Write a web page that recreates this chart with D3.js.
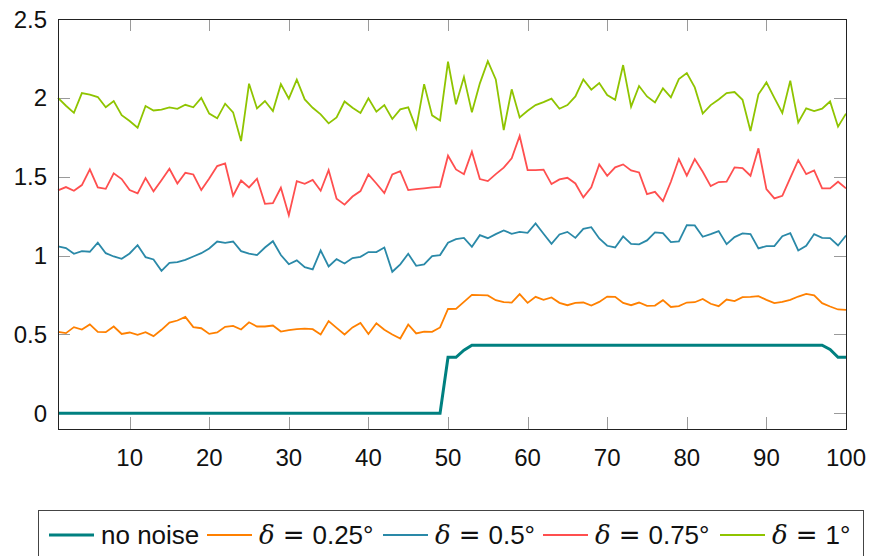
<!DOCTYPE html>
<html>
<head>
<meta charset="utf-8">
<script src="https://cdn.jsdelivr.net/npm/d3@7"></script>
<style>
  body { margin: 0; background: #fff; }
  svg { display: block; font-family: "Liberation Sans", Arial, sans-serif; }
</style>
</head>
<body>
<div id="chart"></div>
<script>
// values, one per step 1..100
const noNoise = [
  0, 0, 0, 0, 0, 0, 0, 0, 0, 0,
  0, 0, 0, 0, 0, 0, 0, 0, 0, 0,
  0, 0, 0, 0, 0, 0, 0, 0, 0, 0,
  0, 0, 0, 0, 0, 0, 0, 0, 0, 0,
  0, 0, 0, 0, 0, 0, 0, 0, 0, 0.355,
  0.355, 0.4, 0.431, 0.431, 0.431, 0.431, 0.431, 0.431, 0.431, 0.431,
  0.431, 0.431, 0.431, 0.431, 0.431, 0.431, 0.431, 0.431, 0.431, 0.431,
  0.431, 0.431, 0.431, 0.431, 0.431, 0.431, 0.431, 0.431, 0.431, 0.431,
  0.431, 0.431, 0.431, 0.431, 0.431, 0.431, 0.431, 0.431, 0.431, 0.431,
  0.431, 0.431, 0.431, 0.431, 0.431, 0.431, 0.431, 0.404, 0.355, 0.355,
];
const delta025 = [
  0.516, 0.508, 0.546, 0.531, 0.563, 0.516, 0.514, 0.55, 0.503, 0.512,
  0.497, 0.514, 0.489, 0.529, 0.575, 0.588, 0.611, 0.546, 0.539, 0.503,
  0.512, 0.548, 0.554, 0.531, 0.577, 0.55, 0.55, 0.556, 0.518, 0.527,
  0.533, 0.537, 0.533, 0.499, 0.584, 0.541, 0.499, 0.544, 0.573, 0.503,
  0.571, 0.529, 0.499, 0.474, 0.563, 0.506, 0.518, 0.516, 0.544, 0.661,
  0.662, 0.706, 0.751, 0.749, 0.747, 0.717, 0.704, 0.702, 0.755, 0.7,
  0.738, 0.719, 0.734, 0.7, 0.685, 0.7, 0.702, 0.683, 0.706, 0.74,
  0.738, 0.7, 0.685, 0.702, 0.681, 0.683, 0.717, 0.674, 0.679, 0.702,
  0.704, 0.725, 0.694, 0.679, 0.721, 0.711, 0.736, 0.738, 0.742, 0.719,
  0.698, 0.706, 0.719, 0.74, 0.757, 0.747, 0.698, 0.677, 0.658, 0.656,
];
const delta05 = [
  1.058, 1.047, 1.011, 1.028, 1.024, 1.081, 1.015, 0.994, 0.979, 1.013,
  1.066, 0.99, 0.975, 0.903, 0.954, 0.958, 0.973, 0.994, 1.015, 1.045,
  1.089, 1.081, 1.089, 1.028, 1.012, 1.003, 1.051, 1.091, 1.003, 0.945,
  0.969, 0.926, 0.912, 1.032, 0.931, 0.977, 0.95, 0.984, 0.992, 1.022,
  1.022, 1.051, 0.897, 0.944, 1.011, 0.935, 0.944, 0.996, 1.003, 1.081,
  1.104, 1.112, 1.055, 1.129, 1.11, 1.136, 1.159, 1.138, 1.15, 1.144,
  1.203, 1.138, 1.074, 1.134, 1.15, 1.112, 1.169, 1.18, 1.108, 1.062,
  1.051, 1.121, 1.074, 1.071, 1.096, 1.147, 1.142, 1.085, 1.089, 1.193,
  1.191, 1.119, 1.136, 1.155, 1.072, 1.117, 1.14, 1.136, 1.045, 1.06,
  1.06, 1.123, 1.142, 1.032, 1.062, 1.136, 1.112, 1.11, 1.064, 1.127,
];
const delta075 = [
  1.413, 1.434, 1.411, 1.447, 1.546, 1.432, 1.423, 1.521, 1.485, 1.415,
  1.394, 1.491, 1.407, 1.478, 1.55, 1.457, 1.525, 1.514, 1.415, 1.489,
  1.567, 1.584, 1.379, 1.476, 1.432, 1.487, 1.328, 1.332, 1.43, 1.256,
  1.472, 1.455, 1.48, 1.411, 1.542, 1.36, 1.323, 1.374, 1.409, 1.514,
  1.457, 1.396, 1.514, 1.535, 1.415, 1.421, 1.426, 1.432, 1.436, 1.633,
  1.546, 1.516, 1.658, 1.485, 1.472, 1.516, 1.557, 1.616, 1.758, 1.542,
  1.542, 1.545, 1.453, 1.483, 1.493, 1.457, 1.369, 1.432, 1.578, 1.506,
  1.559, 1.578, 1.54, 1.527, 1.39, 1.404, 1.345, 1.468, 1.612, 1.506,
  1.612, 1.531, 1.44, 1.466, 1.468, 1.559, 1.555, 1.506, 1.68, 1.421,
  1.362, 1.379, 1.493, 1.605, 1.516, 1.54, 1.426, 1.426, 1.468, 1.426,
];
const delta1 = [
  2.0, 1.95, 1.905, 2.03, 2.02, 2.005, 1.94, 1.98, 1.89, 1.853,
  1.81, 1.948, 1.92, 1.925, 1.94, 1.93, 1.956, 1.94, 2.0, 1.9,
  1.87, 1.963, 1.908, 1.726, 2.09, 1.933, 1.98, 1.916, 2.087, 1.995,
  2.115, 1.99, 1.937, 1.895, 1.838, 1.876, 1.977, 1.937, 1.904, 1.997,
  1.912, 1.954, 1.866, 1.927, 1.94, 1.806, 2.087, 1.889, 1.857, 2.229,
  1.959, 2.132, 1.908, 2.092, 2.233, 2.117, 1.796, 2.054, 1.876, 1.918,
  1.954, 1.973, 1.995, 1.931, 1.954, 2.009, 2.117, 2.052, 2.094, 2.018,
  1.988, 2.208, 1.944, 2.075, 2.009, 1.971, 2.06, 2.003, 2.119, 2.157,
  2.066, 1.9, 1.954, 1.99, 2.03, 2.037, 1.988, 1.79, 2.022, 2.098,
  2.0, 1.904, 2.109, 1.844, 1.933, 1.916, 1.931, 1.977, 1.817, 1.9,
];

const xTicks = [10, 20, 30, 40, 50, 60, 70, 80, 90, 100];
const yTicks = [0, 0.5, 1, 1.5, 2, 2.5];

// legend: all but the first read "δ = <value>"
const seriesNames = ["no noise", "0.25°", "0.5°", "0.75°", "1°"];
const seriesData = [noNoise, delta025, delta05, delta075, delta1];
const seriesColors = ["#008080", "#ff8000", "#2a89a8", "#ff4f4f", "#8fc400"];

const width = 870;
const height = 556;
const margin = { top: 19, right: 24, bottom: 127, left: 58 };
const tickLen = 12;

const x = d3
  .scaleLinear()
  .domain([1, 100])
  .range([margin.left, width - margin.right]);
const y = d3
  .scaleLinear()
  .domain([-0.1, 2.5])
  .range([height - margin.bottom, margin.top]);

const line = d3
  .line()
  .x((d, i) => x(i + 1))
  .y((d) => y(d));

const svg = d3
  .select("#chart")
  .append("svg")
  .attr("width", width)
  .attr("height", height)
  .attr("viewBox", [0, 0, width, height]);

const x0 = x.range()[0];
const x1 = x.range()[1];
const y0 = y.range()[0];
const y1 = y.range()[1];

// inward ticks on all four sides
const ticks = svg.append("g").attr("stroke", "#9a9a9a").attr("stroke-width", 1);
ticks
  .selectAll(".tick-x")
  .data(xTicks)
  .join("path")
  .attr("class", "tick-x")
  .attr("d", (d) => {
    const px = Math.round(x(d)) + 0.5;
    return `M${px},${y0}v${-tickLen}M${px},${y1}v${tickLen}`;
  });
ticks
  .selectAll(".tick-y")
  .data(yTicks)
  .join("path")
  .attr("class", "tick-y")
  .attr("d", (d) => {
    const py = Math.round(y(d)) + 0.5;
    return `M${x0},${py}h${tickLen}M${x1},${py}h${-tickLen}`;
  });

// series
svg
  .append("g")
  .attr("fill", "none")
  .selectAll("path")
  .data(seriesData)
  .join("path")
  .attr("stroke", (d, i) => seriesColors[i])
  .attr("stroke-width", (d, i) => (i === 0 ? 3 : 1.8))
  .attr("d", line);

// frame
svg
  .append("rect")
  .attr("x", x0 + 0.5)
  .attr("y", y1 + 0.5)
  .attr("width", x1 - x0)
  .attr("height", y0 - y1)
  .attr("fill", "none")
  .attr("stroke", "#222")
  .attr("stroke-width", 1);

// tick labels
svg
  .append("g")
  .attr("font-size", 24)
  .attr("fill", "#111")
  .attr("text-anchor", "middle")
  .selectAll("text")
  .data(xTicks)
  .join("text")
  .attr("x", (d) => x(d))
  .attr("y", y0 + 37)
  .text((d) => d);

svg
  .append("g")
  .attr("font-size", 24)
  .attr("fill", "#111")
  .attr("text-anchor", "end")
  .selectAll("text")
  .data(yTicks)
  .join("text")
  .attr("x", x0 - 11)
  .attr("y", (d) => y(d))
  .attr("dy", "0.36em")
  .text((d) => d);

// legend
const legendBox = { x: 38.5, y: 510.5, w: 825, h: 50 };
const legendY = 535;
const legendStarts = [49, 207, 383, 543, 720];
const sampleLen = 45;

svg
  .append("rect")
  .attr("x", legendBox.x)
  .attr("y", legendBox.y)
  .attr("width", legendBox.w)
  .attr("height", legendBox.h)
  .attr("fill", "#fff")
  .attr("stroke", "#444")
  .attr("stroke-width", 1);

const items = svg
  .append("g")
  .selectAll("g")
  .data(seriesNames)
  .join("g")
  .attr("transform", (d, i) => `translate(${legendStarts[i]},${legendY})`);

items
  .append("line")
  .attr("x2", sampleLen)
  .attr("stroke", (d, i) => seriesColors[i])
  .attr("stroke-width", (d, i) => (i === 0 ? 3 : 1.8));

items
  .append("text")
  .attr("x", sampleLen + 7)
  .attr("dy", "0.36em")
  .attr("font-size", 26)
  .attr("fill", "#111")
  .each(function (d, i) {
    const t = d3.select(this);
    if (i === 0) {
      t.text(d);
      return;
    }
    t.append("tspan")
      .attr("font-family", "'DejaVu Serif', 'Liberation Serif', serif")
      .attr("font-style", "italic")
      .text("δ");
    t.append("tspan")
      .attr("dx", 8)
      .attr("font-family", "'DejaVu Sans', sans-serif")
      .text("=");
    t.append("tspan").attr("dx", 8).text(d);
  });
</script>
</body>
</html>
